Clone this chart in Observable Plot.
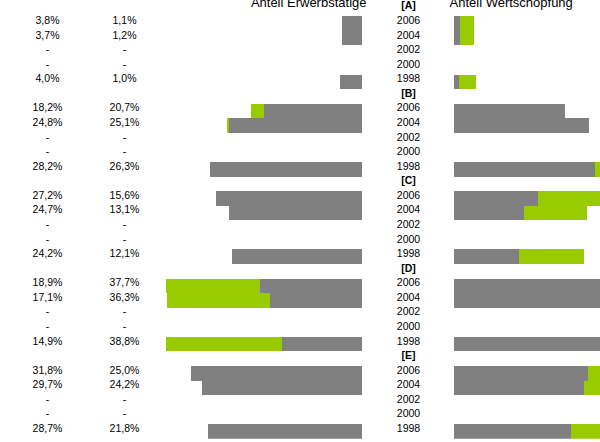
<!DOCTYPE html>
<html><head><meta charset="utf-8">
<script src="https://cdn.jsdelivr.net/npm/d3@7"></script>
<script src="https://cdn.jsdelivr.net/npm/@observablehq/plot@0.6"></script>
<style>
body{margin:0;background:#fff;}
#chart{position:relative;width:600px;height:442px;overflow:hidden;background:#fff;}
#chart svg{position:absolute;left:0;top:0;}
</style></head><body><div id="chart"></div>
<script>
const groups = ["A","B","C","D","E"];
const years = ["2006","2004","2002","2000","1998"];
const erwerbstaetige = [
  [3.8, 3.7, null, null, 4.0],
  [18.2, 24.8, null, null, 28.2],
  [27.2, 24.7, null, null, 24.2],
  [18.9, 17.1, null, null, 14.9],
  [31.8, 29.7, null, null, 28.7]
];
const wertschoepfung = [
  [1.1, 1.2, null, null, 1.0],
  [20.7, 25.1, null, null, 26.3],
  [15.6, 13.1, null, null, 12.1],
  [37.7, 36.3, null, null, 38.8],
  [25.0, 24.2, null, null, 21.8]
];
const columns = ["Erwerbstätige","Wertschöpfung"];
const titles = ["Anteil Erwerbstätige","Anteil Wertschöpfung"];

const slots = [];
const rows = [];
groups.forEach((g,i)=>{
  slots.push(g);
  years.forEach((y,j)=>{
    const key = g+"-"+y;
    slots.push(key);
    rows.push({group:g, year:y, slot:key, e: erwerbstaetige[i][j], w: wertschoepfung[i][j]});
  });
});
const bars = rows.filter(d=>d.e!=null);
const fmt = v => v==null ? "-" : v.toFixed(1).replace(".",",")+"%";
const cells = rows.flatMap(d => [
  {slot:d.slot, col:columns[0], label:fmt(d.e)},
  {slot:d.slot, col:columns[1], label:fmt(d.w)}
]);

const GRAY="#808080", GREEN="#99cc00";
const FONT = "'Liberation Sans', Arial, sans-serif";
const common = {width:600, height:442, marginTop:1.64, marginBottom:3.2,
  style:{fontFamily:FONT, background:"transparent", overflow:"visible"}};
const yScale = {type:"band", domain:slots, padding:0, round:false, axis:null};
const barStyle = {shapeRendering:"crispEdges", clip:true};

const left = Plot.plot({...common, marginLeft:166, marginRight:238,
  x:{domain:[0, 36.45], reverse:true, axis:null},
  y:yScale,
  marks:[
    Plot.barX(bars,{x1:0, x2:"e", y:"slot", fill:GRAY, ...barStyle}),
    Plot.barX(bars.filter(d=>d.w>d.e),{x1:"e", x2:"w", y:"slot", fill:GREEN, ...barStyle}),
    Plot.text([titles[0]],{text:d=>d, frameAnchor:"top-right", textAnchor:"end", lineAnchor:"bottom", dx:4, dy:4.5, fontSize:13, fill:"#000"})
  ]});

const right = Plot.plot({...common, marginLeft:454, marginRight:0,
  x:{domain:[0, 27.15], axis:null},
  y:yScale,
  marks:[
    Plot.barX(bars,{x1:0, x2:"w", y:"slot", fill:GRAY, ...barStyle}),
    Plot.barX(bars.filter(d=>d.e>d.w),{x1:"w", x2:"e", y:"slot", fill:GREEN, ...barStyle}),
    Plot.text([titles[1]],{text:d=>d, frameAnchor:"top-left", textAnchor:"start", lineAnchor:"bottom", dx:-5, dy:4.5, fontSize:13, fill:"#000"}),
    Plot.text(rows,{y:"slot", text:"year", frameAnchor:"left", dx:-46, textAnchor:"middle", lineAnchor:"bottom", fontSize:10.5, fill:"#000"}),
    Plot.text(groups,{y:d=>d, text:d=>`[${d}]`, frameAnchor:"left", dx:-46, textAnchor:"middle", lineAnchor:"bottom", fontSize:10.5, fontWeight:"bold", fill:"#000"})
  ]});

const table = Plot.plot({...common, marginLeft:0, marginRight:0,
  x:{type:"point", domain:columns, range:[47,124], padding:0, axis:null},
  y:yScale,
  marks:[
    Plot.text(cells,{x:"col", y:"slot", text:"label", textAnchor:"middle", lineAnchor:"bottom", fontSize:10.5, fill:"#000"})
  ]});

const el = document.getElementById("chart");
el.append(left, right, table);
</script></body></html>
